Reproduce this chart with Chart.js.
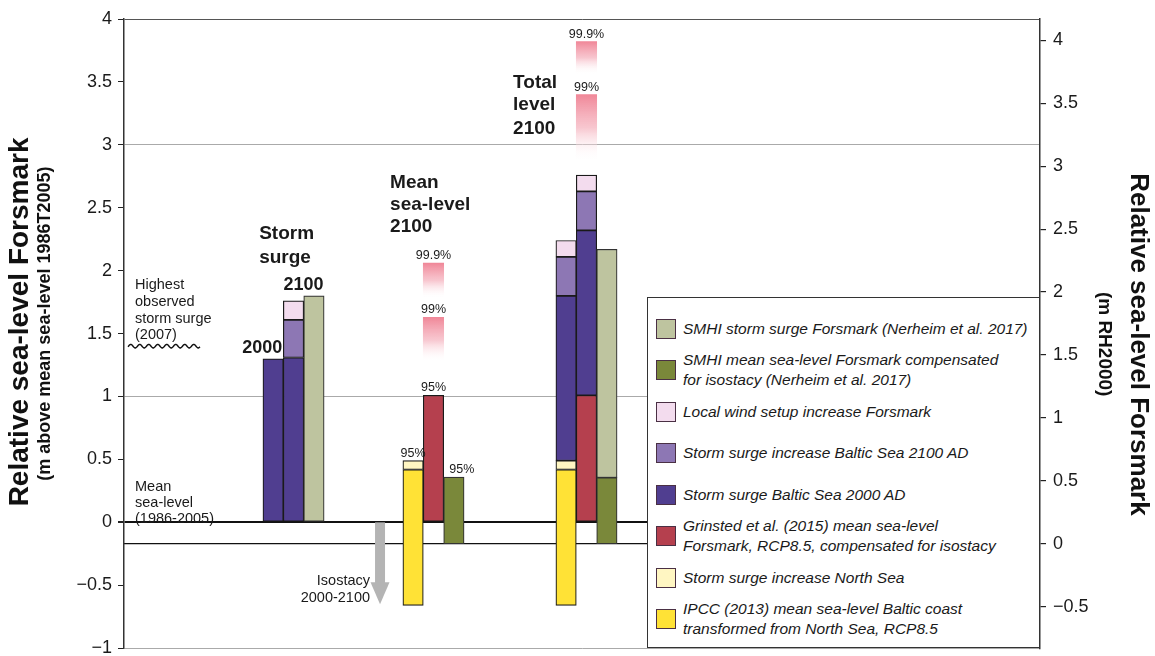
<!DOCTYPE html>
<html>
<head>
<meta charset="utf-8">
<script src="https://cdn.jsdelivr.net/npm/chart.js@4.4.1/dist/chart.umd.min.js"></script>
<style>
html,body{margin:0;padding:0;overflow:hidden;background:#fff;width:1155px;height:656px;}
#wrap{position:relative;width:1155px;height:666px;}
canvas{display:block;}
#legend{position:absolute;left:647px;top:297px;width:393px;height:351px;border:1px solid #333;background:#fff;box-sizing:border-box;padding-top:10px;font:italic 15.5px "Liberation Sans",Arial,sans-serif;color:#1a1a1a;}
.row{display:flex;align-items:center;height:41.5px;}
.sw{width:20px;height:20px;box-sizing:border-box;border:1.5px solid #4a3044;margin-left:8px;margin-right:7px;flex:none;}
.tx{white-space:pre-line;line-height:20px;}
</style>
</head>
<body>
<div id="wrap"><canvas id="c" width="1155" height="666"></canvas><div id="legend"></div></div>
<script>
// ---------------- DATA ----------------
const columns = ['storm2000', 'storm2100', 'stormSMHI', 'meanIPCC', 'meanGrinsted', 'meanSMHI', 'totalIPCC', 'totalGrinsted', 'totalSMHI'];

const seriesLabels = [
  'SMHI storm surge Forsmark (Nerheim et al. 2017)',
  'SMHI mean sea-level Forsmark compensated\nfor isostacy (Nerheim et al. 2017)',
  'Local wind setup increase Forsmark',
  'Storm surge increase Baltic Sea 2100 AD',
  'Storm surge Baltic Sea 2000 AD',
  'Grinsted et al. (2015) mean sea-level\nForsmark, RCP8.5, compensated for isostacy',
  'Storm surge increase North Sea',
  'IPCC (2013) mean sea-level Baltic coast\ntransformed from North Sea, RCP8.5'
];

// [column, low, high] in m above mean sea-level 1986-2005
const smhiStorm    = [['stormSMHI', 0, 1.80], ['totalSMHI', 0.355, 2.17]];
const smhiMean     = [['meanSMHI', -0.17, 0.36], ['totalSMHI', -0.17, 0.355]];
const localWind    = [['storm2100', 1.61, 1.76], ['totalIPCC', 2.11, 2.24], ['totalGrinsted', 2.63, 2.76]];
const surgeInc2100 = [['storm2100', 1.31, 1.61], ['totalIPCC', 1.80, 2.11], ['totalGrinsted', 2.32, 2.63]];
const surge2000    = [['storm2000', 0, 1.30], ['storm2100', 0, 1.31], ['totalIPCC', 0.49, 1.80], ['totalGrinsted', 1.01, 2.32]];
const grinsted     = [['meanGrinsted', 0, 1.01], ['totalGrinsted', 0, 1.01]];
const northSeaInc  = [['meanIPCC', 0.42, 0.49], ['totalIPCC', 0.42, 0.49]];
const ipcc         = [['meanIPCC', -0.66, 0.42], ['totalIPCC', -0.66, 0.42]];
const upper99      = [['meanGrinsted', 1.27, 1.63], ['totalGrinsted', 2.87, 3.40]];
const upper999     = [['meanGrinsted', 1.78, 2.06], ['totalGrinsted', 3.56, 3.82]];

const percentLabels = [
  ['meanGrinsted', 2.06, '99.9%'], ['meanGrinsted', 1.63, '99%'], ['meanGrinsted', 1.01, '95%'],
  ['meanIPCC', 0.49, '95%'], ['meanSMHI', 0.36, '95%'],
  ['totalGrinsted', 3.82, '99.9%'], ['totalGrinsted', 3.40, '99%']
];

const leftRange = [-1, 4];
const leftTicks = [-1, -0.5, 0, 0.5, 1, 1.5, 2, 2.5, 3, 3.5, 4];
const rightTicks = [-0.5, 0, 0.5, 1, 1.5, 2, 2.5, 3, 3.5, 4];
const rh2000Offset = 0.17;      // RH2000 zero lies 0.17 m below mean sea-level 1986-2005
const highestObservedSurge = 1.40;
const isostacyDrop = -0.65;

// ---------------- LAYOUT / STYLE ----------------
const FONT = '"Liberation Sans", Arial, Helvetica, sans-serif';
const BAR_W = 20.4;
const X_MAX = 44.9;
const columnSlot = {storm2000: 7.31, storm2100: 8.31, stormSMHI: 9.31, meanIPCC: 14.17, meanGrinsted: 15.17, meanSMHI: 16.17, totalIPCC: 21.67, totalGrinsted: 22.67, totalSMHI: 23.67};
const isostacySlot = 12.55;
const NB = n => '\u00a0'.repeat(n);

const fmt = v => (v < 0 ? '\u2212' + Math.abs(v) : String(v));

function bar(label, rows, color, border) {
  return {
    type: 'bar', label, inLegend: true,
    data: rows.map(([c, lo, hi]) => ({x: columnSlot[c], y: [lo, hi]})),
    backgroundColor: color, borderColor: border || '#1a1a1a', borderWidth: 1.2, borderSkipped: false,
    barThickness: BAR_W, grouped: false
  };
}
function fade(label, rows) {
  return {
    type: 'bar', label, inLegend: false,
    data: rows.map(([c, lo, hi]) => ({x: columnSlot[c], y: [lo, hi]})),
    backgroundColor: (ctx) => {
      const ch = ctx.chart, ys = ch.scales.y;
      if (!ch.chartArea || !ys || !ctx.raw) return 'rgba(240,130,148,0.5)';
      const [lo, hi] = ctx.raw.y;
      const g = ch.ctx.createLinearGradient(0, ys.getPixelForValue(hi), 0, ys.getPixelForValue(lo));
      g.addColorStop(0, 'rgba(240,135,152,1)');
      g.addColorStop(0.5, 'rgba(246,185,196,0.8)');
      g.addColorStop(1, 'rgba(255,255,255,0)');
      return g;
    },
    borderWidth: 0, barThickness: BAR_W, grouped: false
  };
}

const datasets = [
  fade('99.9%', upper999),
  fade('99%', upper99),
  bar(seriesLabels[0], smhiStorm, '#bec49f', '#333'),
  bar(seriesLabels[1], smhiMean, '#7a883a', '#333'),
  bar(seriesLabels[2], localWind, '#f3dcee'),
  bar(seriesLabels[3], surgeInc2100, '#8d77b4'),
  bar(seriesLabels[4], surge2000, '#503e90'),
  bar(seriesLabels[5], grinsted, '#b5404e'),
  bar(seriesLabels[6], northSeaInc, '#fff6c2'),
  bar(seriesLabels[7], ipcc, '#ffe236')
];

const notes = {
  id: 'notes',
  afterDatasetsDraw(chart) {
    const {ctx, chartArea: a, scales: {x, y}} = chart;
    const cx = c => x.getPixelForValue(columnSlot[c]);
    const py = v => y.getPixelForValue(v);
    ctx.save();
    ctx.fillStyle = '#1a1a1a';
    ctx.textBaseline = 'alphabetic';

    // percent labels
    ctx.font = `12.5px ${FONT}`;
    ctx.textAlign = 'center';
    percentLabels.forEach(([c, v, t]) => {
      const dx = c === 'meanSMHI' ? 8 : 0;
      ctx.fillText(t, cx(c) + dx, py(v) - 4);
    });

    // group headings
    ctx.font = `bold 19px ${FONT}`;
    ctx.textAlign = 'left';
    const sx = cx('storm2000') - 14;
    ctx.fillText('Storm', sx, py(2.25));
    ctx.fillText('surge', sx, py(2.06));
    const mx = cx('meanIPCC') - 23;
    ctx.fillText('Mean', mx, py(2.654));
    ctx.fillText('sea-level', mx, py(2.48));
    ctx.fillText('2100', mx, py(2.306));
    const tx = cx('totalIPCC') - 53;
    ctx.fillText('Total', tx, py(3.455));
    ctx.fillText('level', tx, py(3.273));
    ctx.fillText('2100', tx, py(3.09));

    ctx.font = `bold 18px ${FONT}`;
    ctx.textAlign = 'right';
    ctx.fillText('2000', cx('storm2000') + BAR_W / 2 - 1, py(1.343));
    ctx.textAlign = 'center';
    ctx.fillText('2100', cx('storm2100') + 10, py(1.85));

    // small notes
    ctx.font = `14.5px ${FONT}`;
    ctx.textAlign = 'left';
    const hy = py(highestObservedSurge);
    ['Highest', 'observed', 'storm surge', '(2007)'].forEach((t, i) => ctx.fillText(t, a.left + 11, hy - 57 + i * 16.7));
    const zy = py(0);
    ['Mean', 'sea-level', '(1986-2005)'].forEach((t, i) => ctx.fillText(t, a.left + 11, zy - 31 + i * 15.7));
    const ax = x.getPixelForValue(isostacySlot);
    ctx.textAlign = 'right';
    ctx.fillText('Isostacy', ax - 10, zy + 63);
    ctx.fillText('2000-2100', ax - 10, zy + 80);

    // wavy line: highest observed storm surge
    ctx.strokeStyle = '#111';
    ctx.lineWidth = 1.4;
    ctx.beginPath();
    for (let px = a.left + 4; px <= a.left + 76; px += 0.5) {
      const yy = hy + 1.8 * Math.sin((px - a.left) * 2 * Math.PI / 9);
      if (px === a.left + 4) ctx.moveTo(px, yy); else ctx.lineTo(px, yy);
    }
    ctx.stroke();

    // isostacy arrow
    const tip = py(isostacyDrop);
    ctx.fillStyle = '#b4b4b4';
    ctx.fillRect(ax - 5, zy, 10, tip - zy - 20);
    ctx.beginPath();
    ctx.moveTo(ax - 9.5, tip - 22);
    ctx.lineTo(ax + 9.5, tip - 22);
    ctx.lineTo(ax, tip);
    ctx.closePath();
    ctx.fill();
    ctx.restore();
  }
};

const dummy = (position, weight, width, text, size, pad) => ({
  type: 'linear', position, weight, display: true,
  ticks: {display: false}, grid: {display: false}, border: {display: false},
  afterFit: s => { s.width = width; },
  title: {display: true, text, color: '#111', font: {family: FONT, size, weight: 'bold'}, padding: {top: pad, bottom: 0}}
});

const leftGridColor = v => (v === 0 ? '#111' : (v === 3 || v === 1 || v === -1) ? '#aaaaaa' : v === 4 ? '#555' : 'rgba(0,0,0,0)');
const setTicks = list => s => { s.ticks = list.map(v => ({value: v})); };

const chart = new Chart(document.getElementById('c'), {
  data: {datasets},
  options: {
    responsive: false, animation: false,
    layout: {padding: {top: 19, bottom: 16, left: 0, right: 0}},
    plugins: {legend: {display: false}, tooltip: {enabled: false}},
    scales: {
      x: {type: 'linear', min: 0, max: X_MAX, display: false, offset: false},
      y: {
        type: 'linear', position: 'left', weight: 0, min: leftRange[0], max: leftRange[1],
        afterBuildTicks: setTicks(leftTicks),
        ticks: {color: '#1a1a1a', font: {family: FONT, size: 18}, padding: 6, callback: fmt},
        grid: {color: c => leftGridColor(c.tick.value), lineWidth: c => (c.tick.value === 0 ? 2 : 1), tickColor: '#222', tickLength: 6},
        border: {color: '#333', width: 1.5},
        afterFit: s => { s.width = 68; }
      },
      ySubL: dummy('left', 1, 22, NB(4) + '(m above mean sea-level 1986T2005)', 18, 0),
      yTitleL: dummy('left', 2, 34, NB(3) + 'Relative sea-level Forsmark', 28, 3),
      y2: {
        type: 'linear', position: 'right', weight: 0, min: leftRange[0] + rh2000Offset, max: leftRange[1] + rh2000Offset,
        afterBuildTicks: setTicks(rightTicks),
        ticks: {color: '#1a1a1a', font: {family: FONT, size: 18}, padding: 7, callback: fmt},
        grid: {color: c => (c.tick.value === 0 ? '#111' : 'rgba(0,0,0,0)'), lineWidth: 1.2, tickColor: '#222', tickLength: 6},
        border: {color: '#333', width: 1.5},
        afterFit: s => { s.width = 56; }
      },
      ySubR: dummy('right', 1, 20, NB(4) + '(m RH2000)', 19, 0),
      yTitleR: dummy('right', 2, 39, NB(3) + 'Relative sea-level Forsmark', 26, 1)
    }
  },
  plugins: [notes]
});

// HTML legend built from the legend datasets
const legendEl = document.getElementById('legend');
chart.data.datasets.filter(d => d.inLegend).forEach(d => {
  const row = document.createElement('div');
  row.className = 'row';
  const sw = document.createElement('div');
  sw.className = 'sw';
  sw.style.background = d.backgroundColor;
  const tx = document.createElement('div');
  tx.className = 'tx';
  tx.textContent = d.label;
  row.appendChild(sw);
  row.appendChild(tx);
  legendEl.appendChild(row);
});
</script>
</body>
</html>
